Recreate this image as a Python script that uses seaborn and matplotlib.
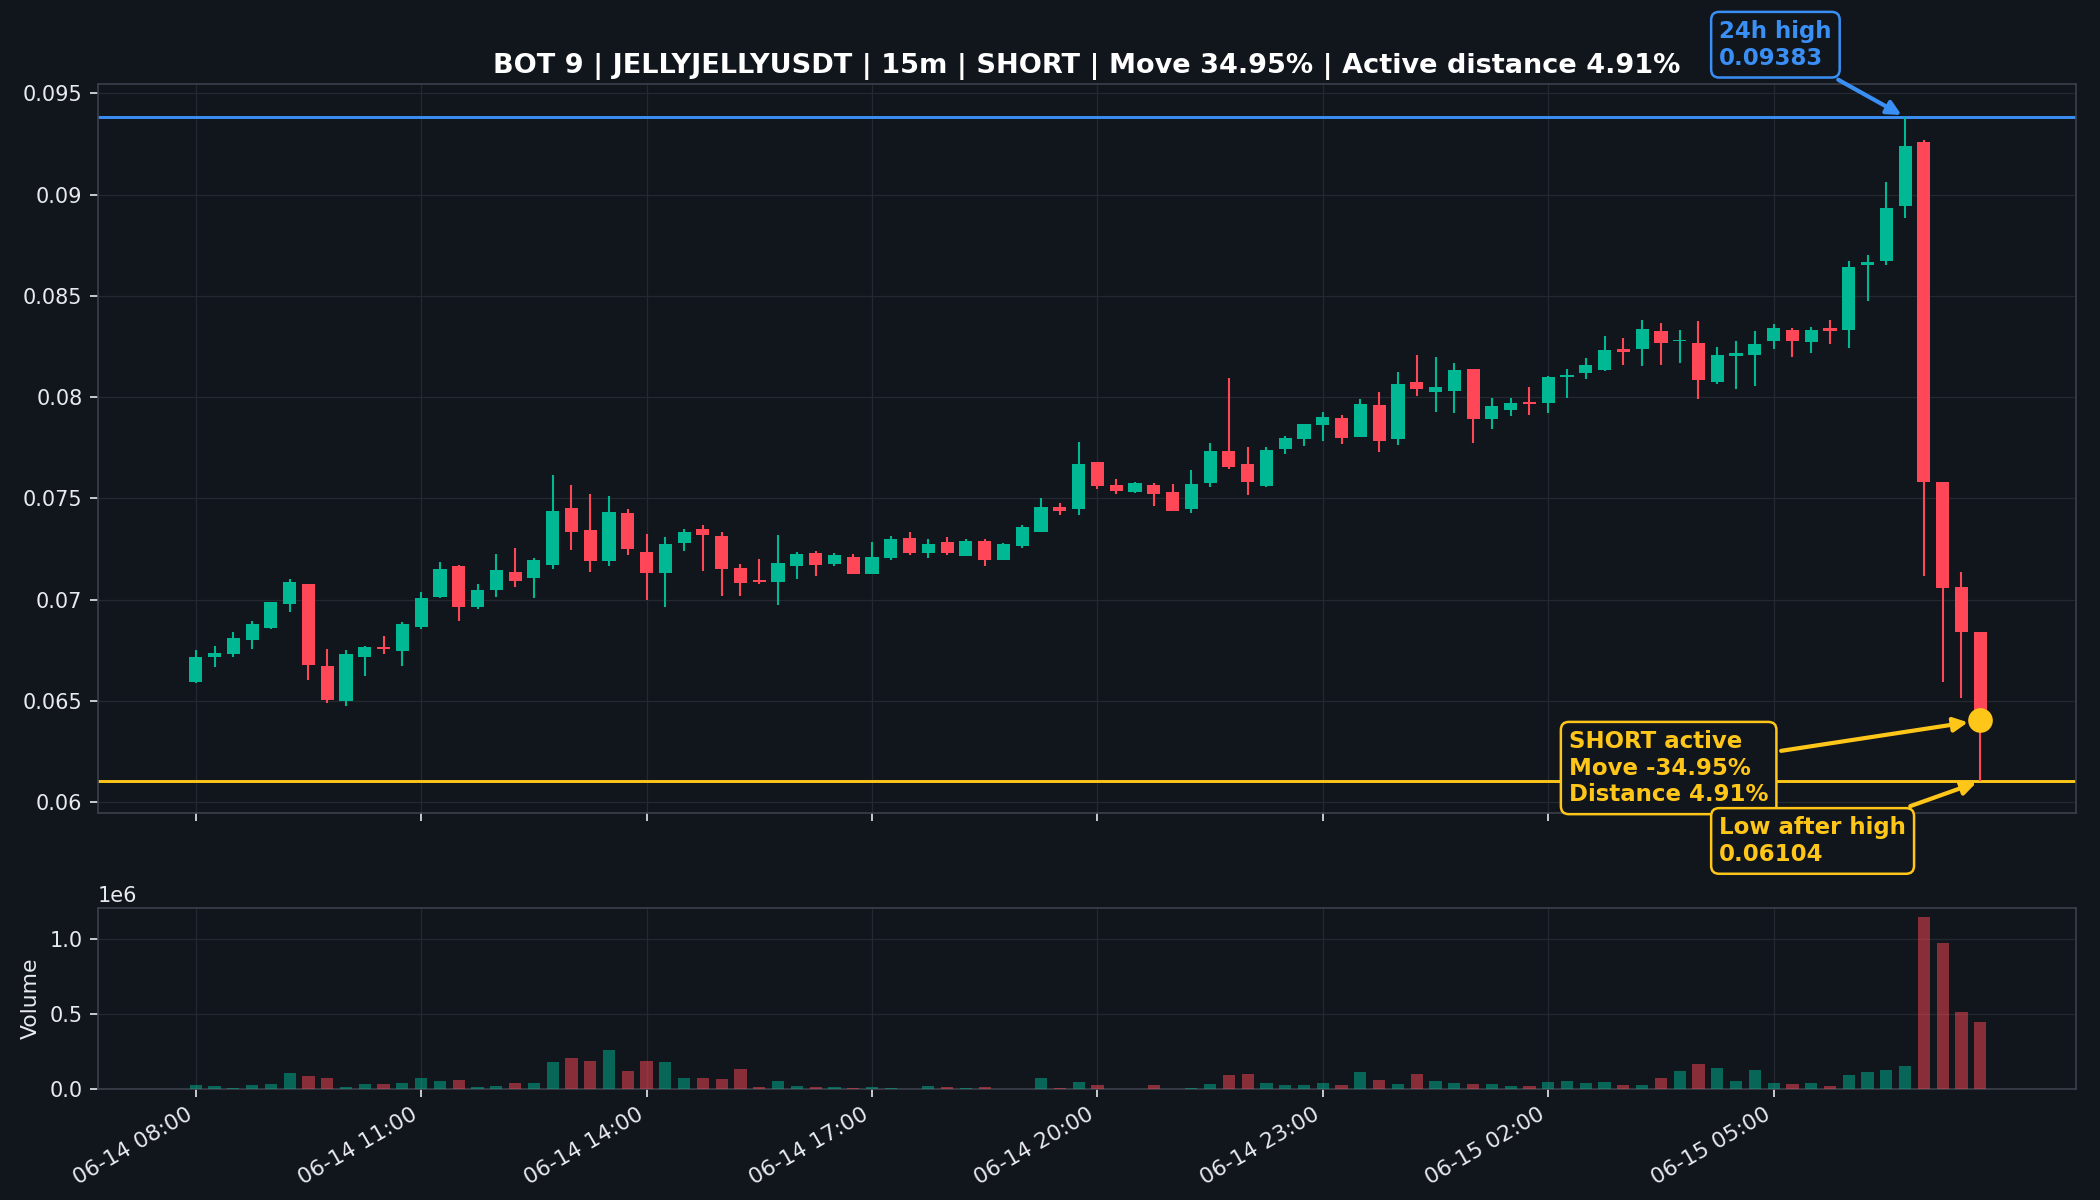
import numpy as np
import pandas as pd
import matplotlib
matplotlib.use("Agg")
import matplotlib.pyplot as plt
import matplotlib.ticker as mticker
import seaborn as sns

# 15m candles, 06-14 08:00 -> 06-15 07:45
opens = [0.06593, 0.06718, 0.06731, 0.06801, 0.06859, 0.06979, 0.07076, 0.06675, 0.06502, 0.06718, 0.06768, 0.06747,
         0.06867, 0.07013, 0.07166, 0.06962, 0.07048, 0.07138, 0.07107, 0.07169, 0.07453, 0.07342, 0.07190, 0.07430,
         0.07236, 0.07131, 0.07279, 0.07351, 0.07315, 0.07159, 0.07099, 0.07087, 0.07168, 0.07231, 0.07175, 0.07211,
         0.07129, 0.07206, 0.07303, 0.07231, 0.07283, 0.07214, 0.07288, 0.07198, 0.07267, 0.07336, 0.07456, 0.07449,
         0.07680, 0.07568, 0.07531, 0.07568, 0.07531, 0.07449, 0.07574, 0.07734, 0.07670, 0.07559, 0.07744, 0.07794,
         0.07861, 0.07898, 0.07804, 0.07960, 0.07794, 0.08074, 0.08023, 0.08028, 0.08140, 0.07894, 0.07939, 0.07975,
         0.07969, 0.08099, 0.08119, 0.08135, 0.08239, 0.08239, 0.08328, 0.08276, 0.08268, 0.08075, 0.08202, 0.08206,
         0.08278, 0.08333, 0.08271, 0.08340, 0.08333, 0.08654, 0.08673, 0.08944, 0.09259, 0.07579, 0.07064, 0.06841]
highs = [0.06750, 0.06770, 0.06842, 0.06895, 0.06990, 0.07100, 0.07080, 0.06757, 0.06750, 0.06770, 0.06819, 0.06888,
         0.07036, 0.07184, 0.07170, 0.07077, 0.07228, 0.07253, 0.07204, 0.07614, 0.07568, 0.07522, 0.07512, 0.07450,
         0.07322, 0.07310, 0.07351, 0.07371, 0.07332, 0.07174, 0.07199, 0.07317, 0.07237, 0.07239, 0.07229, 0.07224,
         0.07283, 0.07313, 0.07333, 0.07298, 0.07308, 0.07298, 0.07298, 0.07278, 0.07369, 0.07502, 0.07479, 0.07779,
         0.07680, 0.07597, 0.07581, 0.07578, 0.07573, 0.07642, 0.07774, 0.08097, 0.07756, 0.07754, 0.07809, 0.07868,
         0.07927, 0.07913, 0.07993, 0.08023, 0.08124, 0.08210, 0.08198, 0.08168, 0.08140, 0.07995, 0.07995, 0.08050,
         0.08104, 0.08140, 0.08195, 0.08304, 0.08294, 0.08383, 0.08368, 0.08332, 0.08376, 0.08248, 0.08277, 0.08328,
         0.08360, 0.08342, 0.08346, 0.08381, 0.08673, 0.08700, 0.09063, 0.09383, 0.09270, 0.07579, 0.07138, 0.06841]
lows = [0.06588, 0.06668, 0.06718, 0.06757, 0.06856, 0.06939, 0.06603, 0.06489, 0.06476, 0.06622, 0.06732, 0.06672,
        0.06856, 0.07010, 0.06895, 0.06952, 0.07011, 0.07062, 0.07007, 0.07151, 0.07243, 0.07136, 0.07166, 0.07220,
        0.06997, 0.06964, 0.07240, 0.07141, 0.07018, 0.07018, 0.07080, 0.06974, 0.07103, 0.07119, 0.07168, 0.07129,
        0.07129, 0.07198, 0.07223, 0.07208, 0.07223, 0.07214, 0.07168, 0.07198, 0.07257, 0.07336, 0.07418, 0.07418,
        0.07545, 0.07520, 0.07528, 0.07465, 0.07436, 0.07427, 0.07554, 0.07644, 0.07515, 0.07556, 0.07718, 0.07759,
        0.07782, 0.07771, 0.07804, 0.07729, 0.07766, 0.08008, 0.07929, 0.07923, 0.07774, 0.07845, 0.07909, 0.07913,
        0.07923, 0.07997, 0.08088, 0.08127, 0.08160, 0.08155, 0.08160, 0.08170, 0.07993, 0.08064, 0.08041, 0.08057,
        0.08236, 0.08199, 0.08218, 0.08264, 0.08243, 0.08475, 0.08650, 0.08886, 0.07115, 0.06595, 0.06513, 0.06104]
closes = [0.06716, 0.06739, 0.06813, 0.06878, 0.06987, 0.07089, 0.06678, 0.06506, 0.06731, 0.06768, 0.06757, 0.06878,
          0.07010, 0.07154, 0.06962, 0.07046, 0.07149, 0.07092, 0.07194, 0.07440, 0.07333, 0.07190, 0.07435, 0.07250,
          0.07131, 0.07276, 0.07335, 0.07319, 0.07151, 0.07082, 0.07087, 0.07182, 0.07224, 0.07173, 0.07221, 0.07129,
          0.07211, 0.07300, 0.07231, 0.07275, 0.07231, 0.07288, 0.07198, 0.07275, 0.07359, 0.07456, 0.07439, 0.07669,
          0.07559, 0.07535, 0.07578, 0.07520, 0.07436, 0.07573, 0.07734, 0.07653, 0.07579, 0.07741, 0.07800, 0.07868,
          0.07903, 0.07799, 0.07967, 0.07784, 0.08064, 0.08038, 0.08050, 0.08135, 0.07894, 0.07955, 0.07970, 0.07964,
          0.08101, 0.08111, 0.08158, 0.08234, 0.08221, 0.08338, 0.08266, 0.08284, 0.08087, 0.08209, 0.08218, 0.08264,
          0.08342, 0.08278, 0.08333, 0.08328, 0.08641, 0.08666, 0.08935, 0.09240, 0.07581, 0.07060, 0.06839, 0.06404]
volumes = [0.029, 0.022, 0.009, 0.029, 0.035, 0.109, 0.089, 0.075, 0.016, 0.035, 0.035, 0.042,
           0.075, 0.055, 0.062, 0.016, 0.022, 0.042, 0.042, 0.182, 0.208, 0.188, 0.262, 0.122,
           0.188, 0.182, 0.075, 0.075, 0.069, 0.135, 0.016, 0.055, 0.022, 0.016, 0.016, 0.009,
           0.016, 0.004, 0.003, 0.022, 0.016, 0.009, 0.016, 0.003, 0.003, 0.075, 0.004, 0.049,
           0.029, 0.003, 0.002, 0.029, 0.002, 0.009, 0.035, 0.095, 0.102, 0.042, 0.029, 0.029,
           0.042, 0.029, 0.115, 0.062, 0.035, 0.102, 0.055, 0.042, 0.035, 0.035, 0.022, 0.022,
           0.049, 0.055, 0.042, 0.049, 0.029, 0.029, 0.075, 0.122, 0.169, 0.142, 0.055, 0.129,
           0.042, 0.035, 0.042, 0.022, 0.095, 0.115, 0.129, 0.155, 1.146, 0.973, 0.514, 0.448]  # millions

tick_pos = [0, 12, 24, 36, 48, 60, 72, 84]
tick_labels = ["06-14 08:00", "06-14 11:00", "06-14 14:00", "06-14 17:00",
               "06-14 20:00", "06-14 23:00", "06-15 02:00", "06-15 05:00"]

high_24h = 0.09383
low_after = 0.06104
high_idx = 91

BG = "#11151c"
GREEN = "#00b894"
RED = "#ff4757"
BLUE = "#3a8ff5"
YELLOW = "#ffc61a"
TXT = "#e8eaee"

df = pd.DataFrame({"open": opens, "high": highs, "low": lows, "close": closes,
                   "volume": np.array(volumes) * 1e6})
df["idx"] = np.arange(len(df))
df["dir"] = np.where(df["close"] >= df["open"], "up", "down")
last_close = df["close"].iloc[-1]

sns.set_style("darkgrid", rc={
    "axes.facecolor": BG, "figure.facecolor": BG, "axes.edgecolor": "#3b404a",
    "grid.color": "#232831", "axes.labelcolor": TXT, "xtick.color": TXT,
    "ytick.color": TXT, "text.color": TXT, "xtick.bottom": True, "ytick.left": True,
    "patch.edgecolor": "none",
})
plt.rcParams["font.family"] = ["DejaVu Sans"]

fig = plt.figure(figsize=(14, 8), dpi=150)
ax = fig.add_axes([0.0467, 0.3225, 0.9419, 0.6075])
axv = fig.add_axes([0.0467, 0.0925, 0.9419, 0.1508], sharex=ax)

colors = np.where(df["dir"] == "up", GREEN, RED)

# candles: wicks then bodies
ax.vlines(df["idx"], df["low"], df["high"], colors=colors, lw=1.0, zorder=2)
body_lo = np.minimum(df["open"], df["close"])
body_h = np.maximum(np.abs(df["close"] - df["open"]), 0.00005)
ax.bar(df["idx"], body_h, bottom=body_lo, width=0.7, color=colors, linewidth=0, zorder=3)

ax.axhline(high_24h, color=BLUE, lw=1.4, zorder=1)
ax.axhline(low_after, color=YELLOW, lw=1.4, zorder=1)
ax.scatter([df["idx"].iloc[-1]], [last_close], s=140, color=YELLOW, linewidths=0, zorder=5)

ax.set_ylim(0.05947, 0.09546)
ax.set_xlim(-5.2, 100.1)
ax.yaxis.set_major_locator(mticker.MultipleLocator(0.005))
ax.yaxis.set_major_formatter(mticker.FuncFormatter(lambda v, p: f"{v:g}"))
ax.tick_params(axis="x", labelbottom=False, length=4, color=TXT)
ax.tick_params(axis="y", labelsize=10, length=4, color=TXT)
ax.grid(True, lw=0.6)
ax.set_xlabel("")

move = (low_after - high_24h) / high_24h * 100
dist = (last_close - low_after) / low_after * 100
ax.set_title(f"BOT 9 | JELLYJELLYUSDT | 15m | SHORT | Move {abs(move):.2f}% | Active distance {dist:.2f}%",
             fontsize=13, fontweight="bold", color="white", pad=5.5)

box = dict(boxstyle="round,pad=0.35", fc=BG, lw=1.2)
ax.annotate(f"24h high\n{high_24h:.5f}", xy=(high_idx, high_24h), xytext=(81.1, 0.0974),
            ha="left", va="center", fontsize=11, fontweight="bold", color=BLUE,
            bbox={**box, "ec": BLUE}, annotation_clip=False,
            arrowprops=dict(arrowstyle="-|>", color=BLUE, lw=2, mutation_scale=14))
ax.annotate(f"SHORT active\nMove {move:.2f}%\nDistance {dist:.2f}%", xy=(95, last_close),
            xytext=(73.1, 0.06169), ha="left", va="center", fontsize=11, fontweight="bold",
            color=YELLOW, bbox={**box, "ec": YELLOW}, annotation_clip=False, zorder=6,
            arrowprops=dict(arrowstyle="-|>", color=YELLOW, lw=2, mutation_scale=14, shrinkB=6))
ax.annotate(f"Low after high\n{low_after:.5f}", xy=(95, low_after), xytext=(81.1, 0.05809),
            ha="left", va="center", fontsize=11, fontweight="bold", color=YELLOW,
            bbox={**box, "ec": YELLOW}, annotation_clip=False, zorder=6,
            arrowprops=dict(arrowstyle="-|>", color=YELLOW, lw=2, mutation_scale=14))

# volume panel
sns.barplot(data=df, x="idx", y="volume", hue="dir", palette={"up": GREEN, "down": RED},
            dodge=False, native_scale=True, width=0.65, alpha=0.5, legend=False,
            saturation=1, linewidth=0, ax=axv, zorder=3)
axv.set_ylim(0, df["volume"].max() * 1.05)
axv.yaxis.set_major_locator(mticker.MultipleLocator(0.5e6))
axv.set_xlim(-5.2, 100.1)
axv.set_xticks(tick_pos)
axv.set_xticklabels(tick_labels, rotation=30, ha="right", fontsize=10.5)
axv.tick_params(axis="both", length=4, color=TXT)
axv.tick_params(axis="y", labelsize=10)
axv.yaxis.get_offset_text().set_fontsize(10)
axv.set_ylabel("Volume", fontsize=10.5)
axv.set_xlabel("")
axv.grid(True, lw=0.6)

plt.savefig("out.png", dpi=150, facecolor=BG)
